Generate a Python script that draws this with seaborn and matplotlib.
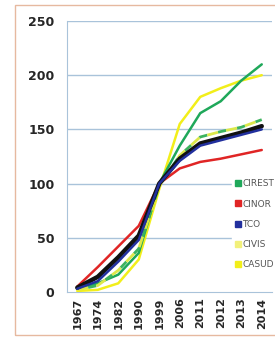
import seaborn as sns
import matplotlib.pyplot as plt
import matplotlib.patches as mpatches
from matplotlib.lines import Line2D
import pandas as pd

years = ['1967', '1974', '1982', '1990', '1999', '2006', '2011', '2012', '2013', '2014']
cirest = [3, 8, 16, 36, 100, 135, 165, 176, 195, 210]
cinor = [5, 23, 42, 61, 100, 114, 120, 123, 127, 131]
tco = [3, 10, 28, 48, 100, 121, 135, 140, 145, 150]
civis = [2, 6, 20, 40, 98, 126, 143, 148, 152, 159]
casud = [1, 2, 8, 30, 95, 155, 180, 188, 195, 200]
total = [4, 14, 32, 52, 100, 123, 137, 142, 147, 153]

series = {'CIREST': cirest, 'CINOR': cinor, 'TCO': tco, 'CIVIS': civis, 'CASUD': casud}
colors = {'CIREST': '#1fa85a', 'CINOR': '#e02525', 'TCO': '#22309e',
          'CIVIS': '#f2f07a', 'CASUD': '#f2ee1a'}

sns.set_style('white')
plt.rcParams['font.family'] = ['DejaVu Sans']

fig = plt.figure(figsize=(2.75, 3.41), dpi=100)
ax = fig.add_axes([67 / 275, 49 / 341, 205 / 275, 271 / 341])

grid_c = '#a9c3da'
for v in [50, 100, 150, 200, 250]:
    ax.axhline(v, color=grid_c, lw=1, zorder=0)

x = list(range(len(years)))
sns.lineplot(x=x, y=casud, color=colors['CASUD'], lw=1.8, ax=ax, zorder=3)
sns.lineplot(x=x, y=cirest, color=colors['CIREST'], lw=1.8, ax=ax, zorder=3)
sns.lineplot(x=x, y=cinor, color=colors['CINOR'], lw=1.8, ax=ax, zorder=3)
sns.lineplot(x=x, y=civis, color='#dce84a', lw=2, ax=ax, zorder=3,
             linestyle=(0, (4, 3)), gapcolor='#3db35e')
sns.lineplot(x=x, y=total, color='#111111', lw=3.2, ax=ax, zorder=4)
sns.lineplot(x=x, y=tco, color=colors['TCO'], lw=1.8, ax=ax, zorder=5)

ax.set_xlim(-0.5, len(years) - 0.5)
ax.set_ylim(0, 250)
ax.set_yticks([0, 50, 100, 150, 200, 250])
ax.set_yticklabels(['0', '50', '100', '150', '200', '250'], fontsize=9, fontweight='bold')
ax.set_xticks(x)
ax.set_xticklabels(years, rotation=90, fontsize=8, fontweight='bold')
ax.set_xticks([i + 0.5 for i in range(-1, len(years))], minor=True)
ax.tick_params(axis='x', which='major', length=0, pad=4)
ax.tick_params(axis='x', which='minor', length=4, color=grid_c, direction='out')
ax.tick_params(axis='y', length=5, color=grid_c, pad=4, direction='out')
ax.set_xlabel('')
ax.set_ylabel('')
for s in ['top', 'right']:
    ax.spines[s].set_visible(False)
ax.spines['left'].set_color(grid_c)
ax.spines['bottom'].set_color(grid_c)

handles = [Line2D([], [], marker='s', linestyle='', markersize=5,
                  markerfacecolor=colors[k], markeredgecolor=colors[k]) for k in series]
leg = ax.legend(handles, list(series.keys()), loc='upper left',
                bbox_to_anchor=(227 / 275, 169 / 341), bbox_transform=fig.transFigure,
                frameon=True, fontsize=6.5, labelspacing=1.25, handletextpad=0.1,
                handlelength=0.8, borderpad=0.3, facecolor='white', edgecolor='white',
                framealpha=1)
for t in leg.get_texts():
    t.set_color('#555555')

fig.patches.append(mpatches.Rectangle((15 / 275, 6 / 341), 262 / 275, 330 / 341,
                                      transform=fig.transFigure, fill=False,
                                      edgecolor='#e6b9a0', lw=1))
fig.savefig('out.png', dpi=100)
